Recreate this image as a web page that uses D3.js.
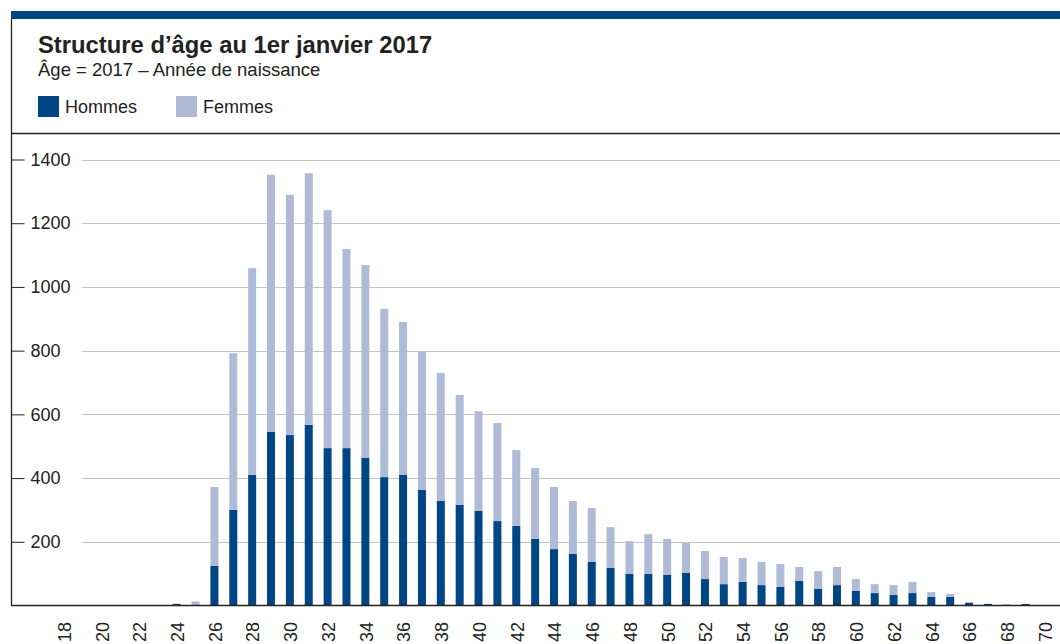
<!DOCTYPE html>
<html>
<head>
<meta charset="utf-8">
<script src="https://d3js.org/d3.v7.min.js"></script>
<style>
body { margin: 0; background: #fff; font-family: "Liberation Sans", Arial, sans-serif; }
svg { display: block; }
</style>
</head>
<body>
<svg></svg>
<script>

var width = 1060;
var height = 644;

// Ages shown on the x axis (2017 - birth year)
var ages = d3.range(18, 71);

// Values, one per age (18 to 70)
var hommes = [0, 0, 0, 0, 0, 0, 5, 0, 124, 300, 410, 545, 535, 567, 494, 494, 463, 403, 410, 363,
	328, 316, 297, 265, 250, 209, 177, 162, 137, 118, 99, 99, 96, 102, 83, 67, 74, 64, 58, 77,
	52, 64, 46, 39, 33, 39, 27, 27, 8, 5, 0, 5, 0];
var femmes = [0, 0, 0, 0, 0, 0, 0, 13, 248, 492, 649, 807, 754, 790, 747, 625, 606, 528, 480, 433,
	402, 345, 313, 308, 238, 223, 195, 166, 169, 128, 103, 125, 113, 94, 88, 85, 75, 73, 72, 44,
	56, 57, 37, 28, 31, 35, 15, 9, 3, 0, 4, 0, 0];

var yTicks = [200, 400, 600, 800, 1000, 1200, 1400];
var xTicks = ages.filter(function (a) { return a % 2 === 0; });

var series = ["Hommes", "Femmes"];
var colors = { "Hommes": "#004685", "Femmes": "#aebad6" };

var rows = ages.map(function (a, i) { return { age: a, Hommes: hommes[i], Femmes: femmes[i] }; });

var svg = d3.select("svg").attr("width", width).attr("height", height);

// Scales
var x = d3.scalePoint().domain(ages).range([63.5, 1044.5]);
var y = d3.scaleLinear().domain([0, 1400]).range([605.5, 159.5]);
var barWidth = 8;

// Frame: blue band at top, left border, separator under the legend
svg.append("rect").attr("x", 11).attr("y", 11).attr("width", width - 11).attr("height", 8)
	.style("fill", "#004685");
svg.append("line").attr("x1", 11.5).attr("x2", 11.5).attr("y1", 19).attr("y2", 606)
	.style("stroke", "#222").style("stroke-width", 1.3);
svg.append("line").attr("x1", 11).attr("x2", width).attr("y1", 133.5).attr("y2", 133.5)
	.style("stroke", "#222").style("stroke-width", 1.3);

// Title and subtitle
svg.append("text").attr("x", 38).attr("y", 53).text("Structure d’âge au 1er janvier 2017")
	.style("font-size", "23.8px").style("font-weight", "bold").style("fill", "#222");
svg.append("text").attr("x", 38).attr("y", 76).text("Âge = 2017 – Année de naissance")
	.style("font-size", "18.5px").style("fill", "#222");

// Legend
var legend = svg.selectAll(".legend").data(series).enter().append("g")
	.attr("transform", function (d, i) { return "translate(" + (38 + i * 138) + ",96)"; });
legend.append("rect").attr("width", 21).attr("height", 21)
	.style("fill", function (d) { return colors[d]; });
legend.append("text").attr("x", 27).attr("y", 17).text(function (d) { return d; })
	.style("font-size", "18px").style("fill", "#222");

// Gridlines
svg.selectAll(".grid").data(yTicks).enter().append("line")
	.attr("x1", 82).attr("x2", width)
	.attr("y1", function (d) { return Math.round(y(d)) + 0.5; })
	.attr("y2", function (d) { return Math.round(y(d)) + 0.5; })
	.style("stroke", "#c4c4c4").style("stroke-width", 1.2);

// Y axis (ticks and labels to the right of the frame)
var yAxis = svg.append("g").attr("transform", "translate(11.5,0)")
	.call(d3.axisRight(y).tickValues(yTicks).tickFormat(d3.format("d")).tickSize(13).tickPadding(6));
yAxis.select(".domain").remove();
yAxis.selectAll("line").style("stroke", "#222");
yAxis.selectAll("text").style("font-size", "18px").style("fill", "#222")
	.style("font-family", "'Liberation Sans', Arial, sans-serif");

// Stacked bars
var stack = d3.stack().keys(series)(rows);
svg.selectAll(".serie").data(stack).enter().append("g")
	.style("fill", function (d) { return colors[d.key]; })
	.selectAll("rect").data(function (d) { return d; }).enter().append("rect")
	.filter(function (d) { return d[1] > d[0]; })
	.attr("x", function (d) { return x(d.data.age) - barWidth / 2; })
	.attr("width", barWidth)
	.attr("y", function (d) { return y(d[1]); })
	.attr("height", function (d) { return y(d[0]) - y(d[1]); });

// X axis baseline and rotated labels
svg.append("line").attr("x1", 11).attr("x2", width).attr("y1", 605.5).attr("y2", 605.5)
	.style("stroke", "#222").style("stroke-width", 1.3);
svg.selectAll(".xlabel").data(xTicks).enter().append("text")
	.attr("transform", function (d) { return "translate(" + (x(d) + 1) + ",622) rotate(-90)"; })
	.attr("text-anchor", "end").attr("dy", "0.35em")
	.text(function (d) { return d; })
	.style("font-size", "18px").style("fill", "#222");

</script>
</body>
</html>
